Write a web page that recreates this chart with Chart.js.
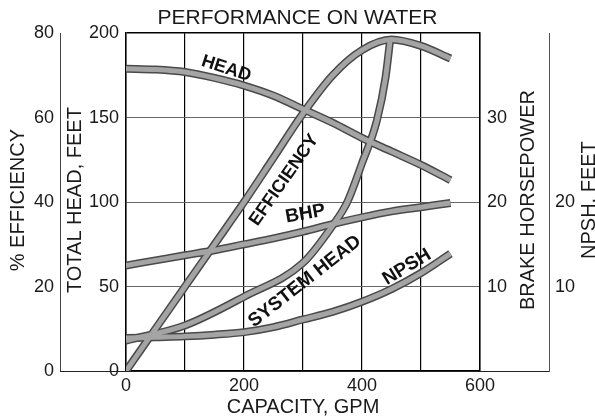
<!DOCTYPE html>
<html>
<head>
<meta charset="utf-8">
<script src="https://cdn.jsdelivr.net/npm/chart.js@4.4.1/dist/chart.umd.min.js"></script>
<style>
  html, body { margin: 0; padding: 0; background: #fff; }
  #wrap { width: 595px; height: 419px; }
</style>
</head>
<body>
<div id="wrap"><canvas id="pumpChart" width="595" height="419"></canvas></div>
<script>
// values
const capacityGpm = [0, 50, 100, 150, 200, 250, 300, 350, 400, 450, 500, 550];
const headFt = [179, 178.5, 177, 173.5, 169, 163, 155, 147, 138, 130, 122, 113];
const efficiencyPct = [0, 10, 20, 30, 40, 50.5, 61, 70, 76, 78.5, 77, 74];
const brakeHp = [12.5, 13.1, 13.7, 14.3, 15.0, 15.7, 16.5, 17.4, 18.2, 18.9, 19.4, 19.9];
const npshFt = [3.9, 4.0, 4.1, 4.3, 4.6, 5.2, 6.1, 7.0, 8.2, 9.7, 11.6, 13.9];

const systemGpm = [0, 100, 200, 300, 350, 375, 400, 425, 440, 448];
const systemHeadFt = [18, 27, 44, 64, 86, 100, 123, 148, 174, 197];

const FONT = "'Liberation Sans', Arial, sans-serif";
const INK = '#1a1a1a';

function pts(xs, ys) {
  return xs.map((x, i) => ({ x: x, y: ys[i] }));
}

const series = [
  { label: 'HEAD', data: pts(capacityGpm, headFt), axis: 'yHead' },
  { label: 'EFFICIENCY', data: pts(capacityGpm, efficiencyPct), axis: 'yEff' },
  { label: 'BHP', data: pts(capacityGpm, brakeHp), axis: 'yBhp' },
  { label: 'NPSH', data: pts(capacityGpm, npshFt), axis: 'yNpsh' },
  { label: 'SYSTEM HEAD', data: pts(systemGpm, systemHeadFt), axis: 'yHead' }
];

// each curve is a dark-edged grey band: wide dark stroke under a lighter one
// (higher order is drawn first, so the dark edge goes under)
const datasets = series.flatMap(s => [
  { label: s.label, data: s.data, yAxisID: s.axis, borderColor: '#4a4a4a', borderWidth: 8, order: 2 },
  { label: s.label, data: s.data, yAxisID: s.axis, borderColor: '#a4a4a4', borderWidth: 5, order: 1 }
]).map(d => Object.assign(d, {
  pointRadius: 0, fill: false, cubicInterpolationMode: 'monotone', borderCapStyle: 'butt'
}));

// text on the curves, anchored in capacity / head-feet units
const curveLabels = [
  { text: 'HEAD', gpm: 170, ft: 179, angle: 18, size: 18 },
  { text: 'EFFICIENCY', gpm: 268, ft: 113, angle: -55, size: 18 },
  { text: 'BHP', gpm: 304, ft: 93, angle: -10, size: 19 },
  { text: 'SYSTEM HEAD', gpm: 303, ft: 53, angle: -38, size: 19 },
  { text: 'NPSH', gpm: 476, ft: 61.5, angle: -31, size: 19 }
];

const extras = {
  id: 'extras',
  afterDraw(chart) {
    const ctx = chart.ctx;
    const s = chart.scales;
    const area = chart.chartArea;
    ctx.save();

    // baseline runs under all axes
    ctx.strokeStyle = '#222';
    ctx.lineWidth = 1.2;
    ctx.beginPath();
    ctx.moveTo(s.yEff.right, area.bottom + 0.5);
    ctx.lineTo(s.yNpsh.left, area.bottom + 0.5);
    ctx.stroke();

    // axis titles, all reading bottom to top
    ctx.fillStyle = INK;
    ctx.font = '20px ' + FONT;
    ctx.textAlign = 'center';
    ctx.textBaseline = 'middle';
    const midY = (area.top + area.bottom) / 2 - 2;
    [
      ['% EFFICIENCY', s.yEff.left + 18],
      ['TOTAL HEAD, FEET', s.yHead.left + 15],
      ['BRAKE HORSEPOWER', s.yBhp.left + 48],
      ['NPSH, FEET', s.yNpsh.left + 40]
    ].forEach(([t, x]) => {
      ctx.save();
      ctx.translate(x, midY);
      ctx.rotate(-Math.PI / 2);
      ctx.fillText(t, 0, 0);
      ctx.restore();
    });

    curveLabels.forEach(l => {
      ctx.save();
      ctx.translate(s.x.getPixelForValue(l.gpm), s.yHead.getPixelForValue(l.ft));
      ctx.rotate(l.angle * Math.PI / 180);
      ctx.font = 'bold ' + l.size + 'px ' + FONT;
      ctx.fillStyle = '#111';
      ctx.fillText(l.text, 0, 0);
      ctx.restore();
    });
    ctx.restore();
  }
};

const tickFont = { family: FONT, size: 18 };

new Chart(document.getElementById('pumpChart'), {
  type: 'line',
  data: { datasets: datasets },
  plugins: [extras],
  options: {
    responsive: false,
    animation: false,
    devicePixelRatio: 1,
    layout: { padding: 0 },
    plugins: {
      legend: { display: false },
      tooltip: { enabled: false },
      title: {
        display: true,
        text: 'PERFORMANCE ON WATER',
        color: INK,
        font: { family: FONT, size: 21, weight: 'normal' },
        padding: { top: 6, bottom: 2 }
      }
    },
    scales: {
      x: {
        type: 'linear',
        min: 0,
        max: 600,
        ticks: {
          stepSize: 100,
          padding: 4,
          color: INK,
          font: tickFont,
          maxRotation: 0,
          callback: v => (v % 200 === 0 ? v : '')
        },
        grid: { color: '#000', lineWidth: 1.2, drawTicks: false },
        border: { color: '#000', width: 1.2 },
        title: {
          display: true,
          text: 'CAPACITY, GPM',
          color: INK,
          font: { family: FONT, size: 20 },
          padding: 0
        },
        afterFit: sc => { sc.height = 48; }
      },
      yHead: {
        position: 'left',
        weight: 0,
        min: 0,
        max: 200,
        ticks: { stepSize: 50, padding: 7, color: INK, font: tickFont },
        grid: {
          drawTicks: false,
          color: c => (c.tick && c.tick.value === 200 ? '#000' : '#666'),
          lineWidth: c => (c.tick && c.tick.value === 200 ? 1.5 : 1)
        },
        border: { color: '#000', width: 1.5 },
        afterFit: sc => { sc.width = 66; }
      },
      yEff: {
        position: 'left',
        weight: 1,
        min: 0,
        max: 80,
        ticks: { stepSize: 20, padding: 6, color: INK, font: tickFont },
        grid: { drawOnChartArea: false, drawTicks: false },
        border: { color: '#444', width: 1 },
        afterFit: sc => { sc.width = 60; }
      },
      yBhp: {
        position: 'right',
        weight: 0,
        min: 0,
        max: 40,
        ticks: {
          stepSize: 10, padding: 7, color: INK, font: tickFont,
          callback: v => (v === 10 || v === 20 || v === 30 ? v : '')
        },
        grid: { drawOnChartArea: false, drawTicks: false },
        border: { color: '#000', width: 1.5 },
        afterFit: sc => { sc.width = 69; }
      },
      yNpsh: {
        position: 'right',
        weight: 1,
        min: 0,
        max: 40,
        ticks: {
          stepSize: 10, padding: 6, color: INK, font: tickFont,
          callback: v => (v === 10 || v === 20 ? v : '')
        },
        grid: { drawOnChartArea: false, drawTicks: false },
        border: { color: '#555', width: 1 },
        afterFit: sc => { sc.width = 46; }
      }
    }
  }
});
</script>
</body>
</html>
